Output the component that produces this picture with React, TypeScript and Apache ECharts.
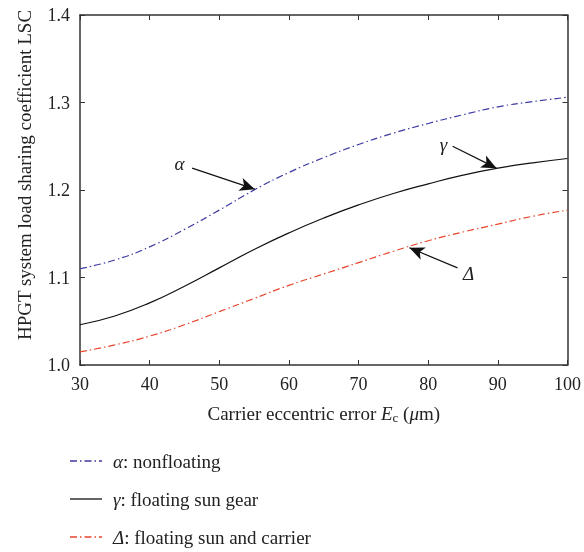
import React, { useEffect, useRef } from "react";
import * as echarts from "echarts";

const xValues = [30, 35, 40, 45, 50, 55, 60, 65, 70, 75, 80, 85, 90, 95, 100];
const alphaValues = [1.11, 1.12, 1.135, 1.155, 1.177, 1.2, 1.22, 1.237, 1.252, 1.265, 1.276, 1.286, 1.295, 1.301, 1.306];
const gammaValues = [1.046, 1.056, 1.071, 1.09, 1.111, 1.132, 1.151, 1.168, 1.183, 1.196, 1.207, 1.217, 1.225, 1.231, 1.236];
const deltaValues = [1.015, 1.023, 1.033, 1.046, 1.061, 1.076, 1.091, 1.104, 1.117, 1.13, 1.142, 1.152, 1.161, 1.17, 1.177];
const seriesSymbols = ["α", "γ", "Δ"];
const seriesLabels = [": nonfloating", ": floating sun gear", ": floating sun and carrier"];
const seriesColors = ["#3d3aa3", "#111111", "#e8442c"];

// annotation arrows in data coordinates
const arrows = [
  { label: "α", tail: [46.1, 1.225], tip: [55.1, 1.201], text: [44.3, 1.23] },
  { label: "γ", tail: [83.5, 1.25], tip: [89.8, 1.225], text: [82.2, 1.252] },
  { label: "Δ", tail: [84.2, 1.111], tip: [77.3, 1.134], text: [85.8, 1.105] },
];

const FONT = "'Liberation Serif', 'DejaVu Serif', serif";
const AXIS_COLOR = "#333";
const TXT = "#222";

export default function App() {
  const ref = useRef<HTMLDivElement>(null);
  useEffect(() => {
    if (!ref.current) return;
    const chart = echarts.init(ref.current, undefined, { renderer: "svg" });
    const mk = (vals: number[]) => xValues.map((x, i) => [x, vals[i]]);
    const dashDot = [7, 3, 1.5, 3];
    const arrowLines = arrows.map((a) => [
      { coord: a.tail, symbol: "none" },
      { coord: a.tip, symbol: "arrow" },
    ]);
    const valuesList = [alphaValues, gammaValues, deltaValues];
    chart.setOption({
      animation: false,
      textStyle: { fontFamily: FONT },
      grid: { left: 80, right: 16, top: 15, bottom: 187, containLabel: false },
      xAxis: [
        {
          type: "value",
          min: 30,
          max: 100,
          interval: 10,
          name: "{n|Carrier eccentric error }{i|E}{s|c}{n| (}{i|μ}{n|m)}",
          nameLocation: "middle",
          nameGap: 37,
          nameTextStyle: {
            rich: {
              n: { fontFamily: FONT, fontSize: 19, color: TXT },
              i: { fontFamily: FONT, fontSize: 19, fontStyle: "italic", color: TXT },
              s: { fontFamily: FONT, fontSize: 13, color: TXT, padding: [9, 0, 0, 0] },
            },
          },
          axisLine: { lineStyle: { color: AXIS_COLOR, width: 1.5 } },
          axisTick: { inside: true, length: 5, lineStyle: { color: AXIS_COLOR } },
          axisLabel: { fontFamily: FONT, fontSize: 18, color: TXT, margin: 10 },
          splitLine: { show: false },
        },
        {
          type: "value",
          min: 30,
          max: 100,
          interval: 10,
          position: "top",
          axisLine: { show: true, lineStyle: { color: AXIS_COLOR, width: 1.5 } },
          axisTick: { show: true, inside: true, length: 5, lineStyle: { color: AXIS_COLOR } },
          axisLabel: { show: false },
          splitLine: { show: false },
        },
      ],
      yAxis: [
        {
          type: "value",
          min: 1.0,
          max: 1.4,
          interval: 0.1,
          name: "HPGT system load sharing coefficient LSC",
          nameLocation: "middle",
          nameGap: 46,
          nameTextStyle: { fontFamily: FONT, fontSize: 19, color: TXT, padding: [0, 0, 0, 30] },
          axisLine: { show: true, lineStyle: { color: AXIS_COLOR, width: 1.5 } },
          axisTick: { show: true, inside: true, length: 5, lineStyle: { color: AXIS_COLOR } },
          axisLabel: { fontFamily: FONT, fontSize: 18, color: TXT, margin: 10, formatter: (v: number) => v.toFixed(1) },
          splitLine: { show: false },
        },
        {
          type: "value",
          min: 1.0,
          max: 1.4,
          interval: 0.1,
          position: "right",
          axisLine: { show: true, lineStyle: { color: AXIS_COLOR, width: 1.5 } },
          axisTick: { show: true, inside: true, length: 5, lineStyle: { color: AXIS_COLOR } },
          axisLabel: { show: false },
          splitLine: { show: false },
        },
      ],
      series: valuesList.map((vals, i) => ({
        name: seriesSymbols[i] + seriesLabels[i],
        type: "line",
        data: mk(vals),
        smooth: true,
        symbol: "none",
        z: i === 0 ? 3 : 2,
        lineStyle: { color: seriesColors[i], width: 1.2, type: i === 1 ? "solid" : dashDot },
        itemStyle: { color: seriesColors[i] },
        ...(i === 0
          ? {
              markLine: {
                silent: true,
                symbolSize: [10, 15],
                lineStyle: { color: "#111", width: 1.2, type: "solid" },
                label: { show: false },
                data: arrowLines,
              },
            }
          : {}),
      })),
    });
    const texts: any[] = arrows.map((a) => {
      const p = chart.convertToPixel({ gridIndex: 0 }, a.text) as number[];
      return {
        type: "text",
        x: p[0],
        y: p[1],
        style: {
          text: a.label,
          font: `italic 19px ${FONT}`,
          fill: TXT,
          align: "center",
          verticalAlign: "middle",
        },
      };
    });
    const legendTop = 461;
    const legendStep = 38;
    seriesSymbols.forEach((sym, i) => {
      const y = legendTop + i * legendStep;
      texts.push({
        type: "line",
        shape: { x1: 70, y1: y, x2: 102, y2: y },
        style: {
          stroke: seriesColors[i],
          lineWidth: 1.3,
          lineDash: i === 1 ? null : dashDot,
        },
      });
      texts.push({
        type: "text",
        x: 113,
        y: y,
        style: {
          text: `{i|${sym}}{n|${seriesLabels[i]}}`,
          verticalAlign: "middle",
          rich: {
            i: { font: `italic 19px ${FONT}`, fill: TXT },
            n: { font: `19px ${FONT}`, fill: TXT },
          },
        },
      });
    });
    chart.setOption({ graphic: texts });
    return () => chart.dispose();
  }, []);
  return (
    <div
      ref={ref}
      style={{ position: "fixed", left: 0, top: 0, width: 584, height: 552 }}
    />
  );
}
